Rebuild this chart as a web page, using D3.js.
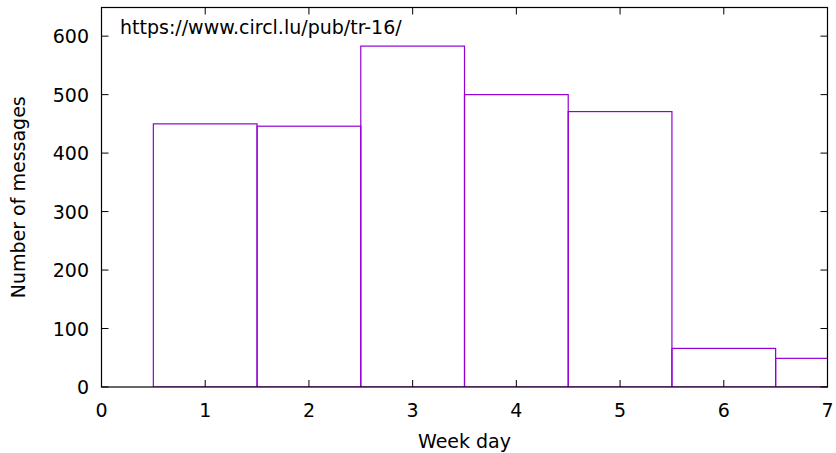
<!DOCTYPE html>
<html><head><meta charset="utf-8">
<script src="https://cdn.jsdelivr.net/npm/d3@7"></script>
<style>body{margin:0;background:#fff}svg{display:block}text{font-family:"DejaVu Sans",sans-serif}</style>
</head><body><svg id="c" width="836" height="453"></svg>
<script>
const days = [1, 2, 3, 4, 5, 6, 7];
const counts = [450, 446, 583, 500, 471, 66, 49];
const xTicks = [0, 1, 2, 3, 4, 5, 6, 7];
const yTicks = [0, 100, 200, 300, 400, 500, 600];
const urlLabel = "https://www.circl.lu/pub/tr-16/";
const xTitle = "Week day";
const yTitle = "Number of messages";

const svg = d3.select("#c");
const L = 101.5, R = 827.5, T = 7.5, B = 387;
const x = d3.scaleLinear().domain([0, 7]).range([L, R]);
const y = d3.scaleLinear().domain([0, 649]).range([B, T]);
const col = "#9400d3";
const tl = 7;
const fs = 19;

svg.append("clipPath").attr("id", "clip").append("rect")
  .attr("x", L).attr("y", T).attr("width", R - L).attr("height", B - T);

const g = svg.append("g").attr("clip-path", "url(#clip)");
g.selectAll("rect.bar").data(days).join("rect")
  .attr("x", d => x(d - 0.5))
  .attr("y", (d, i) => y(counts[i]))
  .attr("width", d => x(d + 0.5) - x(d - 0.5))
  .attr("height", (d, i) => y(0) - y(counts[i]))
  .attr("fill", "none").attr("stroke", col).attr("stroke-width", 1.2);

// ticks (inward, mirrored)
const tg = svg.append("g").attr("stroke", "#000").attr("stroke-width", 1);
xTicks.forEach(v => {
  tg.append("line").attr("x1", x(v)).attr("x2", x(v)).attr("y1", B).attr("y2", B - tl);
  tg.append("line").attr("x1", x(v)).attr("x2", x(v)).attr("y1", T).attr("y2", T + tl);
});
yTicks.forEach(v => {
  tg.append("line").attr("x1", L).attr("x2", L + tl).attr("y1", y(v)).attr("y2", y(v));
  tg.append("line").attr("x1", R).attr("x2", R - tl).attr("y1", y(v)).attr("y2", y(v));
});
svg.append("rect").attr("x", L).attr("y", T).attr("width", R - L).attr("height", B - T)
  .attr("fill", "none").attr("stroke", "#000").attr("stroke-width", 1.2);

svg.selectAll("text.xt").data(xTicks).join("text").attr("class", "xt")
  .attr("x", d => x(d)).attr("y", 417).attr("text-anchor", "middle")
  .attr("font-size", fs).text(d => d);
svg.selectAll("text.yt").data(yTicks).join("text").attr("class", "yt")
  .attr("x", 89).attr("y", d => y(d) + 7).attr("text-anchor", "end")
  .attr("font-size", fs).text(d => d);

svg.append("text").attr("x", 120).attr("y", 34).attr("font-size", fs).text(urlLabel);
svg.append("text").attr("x", (L + R) / 2).attr("y", 448).attr("text-anchor", "middle")
  .attr("font-size", fs).text(xTitle);
svg.append("text").attr("transform", `translate(25,${(T + B) / 2}) rotate(-90)`)
  .attr("text-anchor", "middle").attr("font-size", fs).text(yTitle);
</script></body></html>
